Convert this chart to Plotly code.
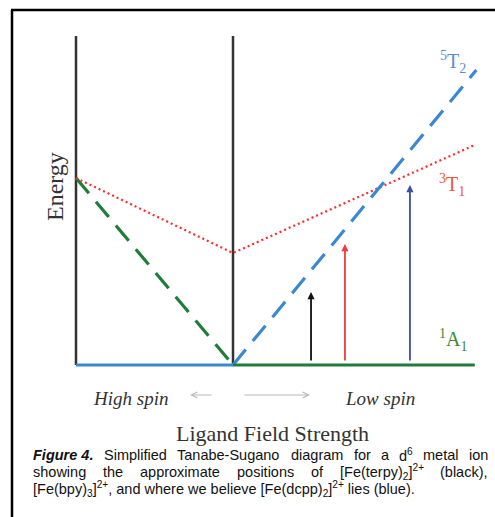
import re
import plotly.graph_objects as go

# ---- data (ligand field strength x, energy y) ----
hs_ground_x = [0.0, 1.0]          # 5T2 as ground state (high spin side)
hs_ground_y = [0.0, 0.0]
ls_ground_x = [1.0, 2.54]         # 1A1 ground state (low spin side)
ls_ground_y = [0.0, 0.0]
a1_excited_x = [0.0, 1.0]         # 1A1 above ground on high-spin side
a1_excited_y = [1.87, 0.0]
t2_excited_x = [1.0, 2.55]        # 5T2 above ground on low-spin side
t2_excited_y = [0.0, 2.95]
t1_x = [0.0, 1.0, 2.54]           # 3T1
t1_y = [1.87, 1.12, 2.20]
vline_x = [0.0, 1.0]
vline_top = 3.29
arrow_x = [1.497, 1.713, 2.127]
arrow_top = [0.73, 1.21, 1.80]
arrow_bottom = 0.03
arrow_colors = ["#111111", "#f03c3c", "#3d4ea6"]

state_labels = ["<sup>5</sup>T<sub>2</sub>", "<sup>3</sup>T<sub>1</sub>", "<sup>1</sup>A<sub>1</sub>"]
state_label_x = [2.40, 2.395, 2.40]
state_label_y = [3.03, 1.80, 0.25]
state_label_colors = ["#5a8fcf", "#f0583c", "#3a8a3a"]

caption_line1 = ["<b><i>Figure 4.</i></b>", "Simplified", "Tanabe-Sugano", "diagram", "for",
                 "a", "d<sup>6</sup>", "metal", "ion"]
caption_line2 = ["showing", "the", "approximate", "positions", "of",
                 "[Fe(terpy)<sub>2</sub>]<sup>2+</sup>", "(black),"]
caption_line3 = ("[Fe(bpy)<sub>3</sub>]<sup>2+</sup>, and where we believe "
                 "[Fe(dcpp)<sub>2</sub>]<sup>2+</sup> lies (blue).")

W, H = 495, 517
px_per_x = 157.0
px_per_y = 100.0
x0_px, y0_px = 76.0, 365.0

BLUE = "#3b88d2"
GREEN = "#1f7d3a"
RED = "#ff2a2a"
SERIF = "Liberation Serif, DejaVu Serif, serif"
SANS = "Liberation Sans, Arial, sans-serif"
TXT = "#333333"
CAP_SIZE = 14.5

# Arial advance widths (1/1000 em) for justification of caption lines
ARIAL = {
    " ": 278, "(": 333, ")": 333, "+": 584, ",": 278, "-": 333, ".": 278, "[": 278, "]": 278,
    "A": 667, "F": 611, "S": 667, "T": 611,
    "a": 556, "b": 556, "c": 500, "d": 556, "e": 556, "f": 278, "g": 556, "h": 556,
    "i": 222, "k": 500, "l": 222, "m": 833, "n": 556, "o": 556, "p": 556, "r": 333,
    "s": 500, "t": 278, "u": 556, "v": 500, "w": 722, "x": 500, "y": 500,
}
ARIAL_BOLD = {"F": 611, "i": 278, "g": 611, "u": 611, "r": 389, "e": 556, " ": 278,
              "4": 556, ".": 278}


def word_width(word, size):
    total = 0.0
    for part in re.split(r"(<sup>.*?</sup>|<sub>.*?</sub>|<b><i>.*?</i></b>)", word):
        if not part:
            continue
        if part.startswith("<sup>") or part.startswith("<sub>"):
            inner = re.sub(r"<.*?>", "", part)
            total += 0.7 * sum(ARIAL.get(c, 556) for c in inner)
        elif part.startswith("<b>"):
            inner = re.sub(r"<.*?>", "", part)
            total += sum(ARIAL_BOLD.get(c, 556) for c in inner)
        else:
            total += sum(ARIAL.get(c, 556) for c in part)
    return total * size / 1000.0


def justify(words, left, right, size):
    widths = [word_width(w, size) for w in words]
    gap = (right - left - sum(widths)) / (len(words) - 1)
    xs, cur = [], left
    for w in widths:
        xs.append(cur)
        cur += w + gap
    return xs


fig = go.Figure()

for xv in vline_x:
    fig.add_trace(go.Scatter(x=[xv, xv], y=[0, vline_top], mode="lines",
                             line=dict(color="#333333", width=2.5), hoverinfo="skip"))

fig.add_trace(go.Scatter(x=a1_excited_x, y=a1_excited_y, mode="lines",
                         line=dict(color=GREEN, width=3.2, dash="20px,11px")))
fig.add_trace(go.Scatter(x=t1_x, y=t1_y, mode="lines",
                         line=dict(color=RED, width=2.2, dash="2px,3px")))
fig.add_trace(go.Scatter(x=t2_excited_x, y=t2_excited_y, mode="lines",
                         line=dict(color=BLUE, width=3.2, dash="20px,11px")))
fig.add_trace(go.Scatter(x=hs_ground_x, y=hs_ground_y, mode="lines",
                         line=dict(color=BLUE, width=3)))
fig.add_trace(go.Scatter(x=ls_ground_x, y=ls_ground_y, mode="lines",
                         line=dict(color=GREEN, width=3)))

ann = []
for xa, yt, c in zip(arrow_x, arrow_top, arrow_colors):
    ann.append(dict(x=xa, y=yt, ax=xa, ay=arrow_bottom, xref="x", yref="y",
                    axref="x", ayref="y", showarrow=True, arrowhead=2,
                    arrowsize=0.8, arrowwidth=1.8, arrowcolor=c, text=""))

for t, xl, yl, c in zip(state_labels, state_label_x, state_label_y, state_label_colors):
    ann.append(dict(x=xl, y=yl, xref="x", yref="y", text=t, showarrow=False,
                    font=dict(family=SERIF, size=20, color=c),
                    xanchor="center", yanchor="middle"))


def px(xp):
    return xp / W


def py(yp):
    return 1 - yp / H


def text_ann(xp, yp, text, font, xanchor="center", angle=0):
    return dict(x=px(xp), y=py(yp), xref="paper", yref="paper", text=text,
                showarrow=False, font=font, xanchor=xanchor, yanchor="middle",
                textangle=angle)


ann.append(text_ann(55, 187, "Energy", dict(family=SERIF, size=24, color=TXT), angle=-90))
ann.append(text_ann(130, 398, "<i>High spin</i>", dict(family=SERIF, size=19, color=TXT)))
ann.append(text_ann(380, 398, "<i>Low spin</i>", dict(family=SERIF, size=19, color=TXT)))
ann.append(dict(x=px(190), y=py(395), ax=23, ay=0, xref="paper", yref="paper",
                axref="pixel", ayref="pixel", showarrow=True, arrowhead=5, arrowsize=1,
                arrowwidth=1.2, arrowcolor="#b8b8b8", text=""))
ann.append(dict(x=px(310), y=py(395), ax=-67, ay=0, xref="paper", yref="paper",
                axref="pixel", ayref="pixel", showarrow=True, arrowhead=5, arrowsize=1,
                arrowwidth=1.2, arrowcolor="#b8b8b8", text=""))
ann.append(text_ann(272, 433, "Ligand Field Strength", dict(family=SERIF, size=22, color=TXT)))

cap_font = dict(family=SANS, size=CAP_SIZE, color="#111111")
CAP_L, CAP_R = 31, 486
for words, yline in ((caption_line1, 455), (caption_line2, 472)):
    for w, xw in zip(words, justify(words, CAP_L, CAP_R, CAP_SIZE)):
        ann.append(text_ann(xw, yline, w, cap_font, xanchor="left"))
ann.append(text_ann(CAP_L, 489, caption_line3, cap_font, xanchor="left"))

shapes = [
    dict(type="line", xref="paper", yref="paper", x0=px(12), x1=px(12), y0=py(10), y1=0,
         line=dict(color="black", width=2.5)),
    dict(type="line", xref="paper", yref="paper", x0=px(11), x1=1.0, y0=py(10), y1=py(10),
         line=dict(color="black", width=2.5)),
]

fig.update_layout(
    width=W, height=H, margin=dict(l=0, r=0, t=0, b=0),
    paper_bgcolor="white", plot_bgcolor="white", showlegend=False,
    xaxis=dict(range=[-x0_px / px_per_x, (W - x0_px) / px_per_x], visible=False,
               domain=[0, 1], fixedrange=True),
    yaxis=dict(range=[-(H - y0_px) / px_per_y, y0_px / px_per_y], visible=False,
               domain=[0, 1], fixedrange=True),
    annotations=ann, shapes=shapes,
)

fig.write_html("out.html")
